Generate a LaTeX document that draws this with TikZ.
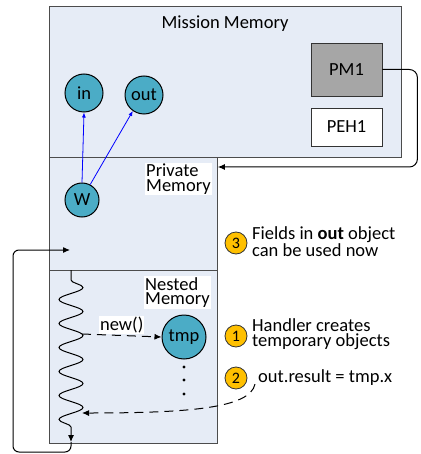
\documentclass[tikz,border=0pt]{standalone}
\usepackage{fontspec}
\setmainfont{Carlito}
\usetikzlibrary{arrows.meta,decorations.pathmorphing}

\definecolor{memfill}{RGB}{230,236,246}
\definecolor{objfill}{RGB}{75,172,198}
\definecolor{numfill}{RGB}{255,192,0}
\definecolor{pmfill}{RGB}{166,166,166}

\begin{document}
\begin{tikzpicture}[x=1pt,y=-1pt,
	mem/.style={draw=black!70, fill=memfill, line width=0.8pt, anchor=north west, inner sep=0pt},
	obj/.style={circle, draw=black, fill=objfill, line width=1pt, inner sep=0pt, font=\fontsize{18.5}{15}\selectfont},
	hbox/.style={draw=black!80, line width=0.8pt, minimum width=71pt, inner sep=0pt, font=\fontsize{18.5}{15}\selectfont},
	num/.style={circle, draw=black!80, fill=numfill, line width=0.8pt, minimum size=22pt, inner sep=0pt, font=\fontsize{16}{16}\selectfont},
	memlbl/.style={fill=white, inner sep=1pt, align=left, anchor=north west, font=\fontsize{18.5}{14.5}\selectfont},
	txt/.style={align=left, anchor=west, inner sep=0pt, font=\fontsize{18.5}{14.5}\selectfont},
	tip/.style={-{Latex[length=7pt,width=6pt]}}]
	\useasboundingbox (0,0) rectangle (420,454);
	
	% memory areas
	\node[mem, minimum width=352pt, minimum height=151pt] (mission) at (49,6) {};
	\node[mem, minimum width=168pt, minimum height=113pt] (private) at (49,157) {};
	\node[mem, minimum width=168pt, minimum height=173pt] (nested) at (49,270) {};
	
	\node[font=\fontsize{18.5}{15}\selectfont] (missionlbl) at (225,24) {Mission Memory};
	\node[memlbl] (privatelbl) at (145,163) {Private\\Memory};
	\node[memlbl] (nestedlbl) at (144,276) {Nested\\Memory};
	
	\node[hbox, fill=pmfill, minimum height=53pt] (pm1) at (346.5,69.5) {PM1};
	\node[hbox, fill=white, minimum height=38pt] (peh1) at (346.5,127) {PEH1};
	
	% objects
	\node[obj, minimum size=38pt] (in) at (84,93) {in};
	\node[obj, minimum size=38pt] (out) at (144,95) {out};
	\node[obj, minimum size=34pt] (w) at (82,200) {W};
	\node[obj, minimum size=44pt] (tmp) at (184,337) {tmp};
	\foreach \y in {367,380,394}
		\fill (184,\y) circle (1.7);
	
	\draw[blue, line width=0.8pt, -{Latex[length=5pt,width=4pt]}] (w.north) -- (in.south);
	\draw[blue, line width=0.8pt, -{Latex[length=5pt,width=4pt]}] (w.62) -- (out.235);
	
	\draw[tip, line width=1pt, rounded corners=8pt] (pm1.east) -- ++(35,0) |- ([yshift=-10pt]private.north east);
	
	% handler thread
	\coordinate (thrtop) at (71,270);
	\coordinate (thrend) at (71,442);
	\coordinate (resume) at (70,250);
	\coordinate (newstart) at (82,334);
	\coordinate (retend) at (82,413);
	\draw[tip, line width=1pt, decorate, decoration={snake, amplitude=12pt, segment length=24pt, pre length=10pt, post length=8pt}] (thrtop) -- (thrend);
	\draw[tip, line width=1pt, rounded corners=6pt] (thrend) -- (71,452) -- (13,452) -- (13,250) -- (resume);
	
	\draw[tip, line width=1pt, dash pattern=on 9pt off 6pt] (newstart) -- (tmp.west)
		node[midway, above=1pt, fill=white, inner sep=1pt, font=\fontsize{18.5}{15}\selectfont] (newlbl) {new()};
	
	% steps
	\node[num] (n3) at (236,243) {3};
	\node[txt] (t3) at (252,242) {Fields in \textbf{out} object\\can be used now};
	\node[num] (n1) at (236,336) {1};
	\node[txt] (t1) at (252,334) {Handler creates\\temporary objects};
	\node[num] (n2) at (236,378) {2};
	\node[txt] (t2) at (258,378) {out.result = tmp.x};
	
	\draw[tip, line width=1pt, dash pattern=on 9pt off 6pt] ([xshift=-3pt,yshift=2pt]t2.south west) .. controls (250,408) and (190,413) .. (retend);
\end{tikzpicture}
\end{document}
